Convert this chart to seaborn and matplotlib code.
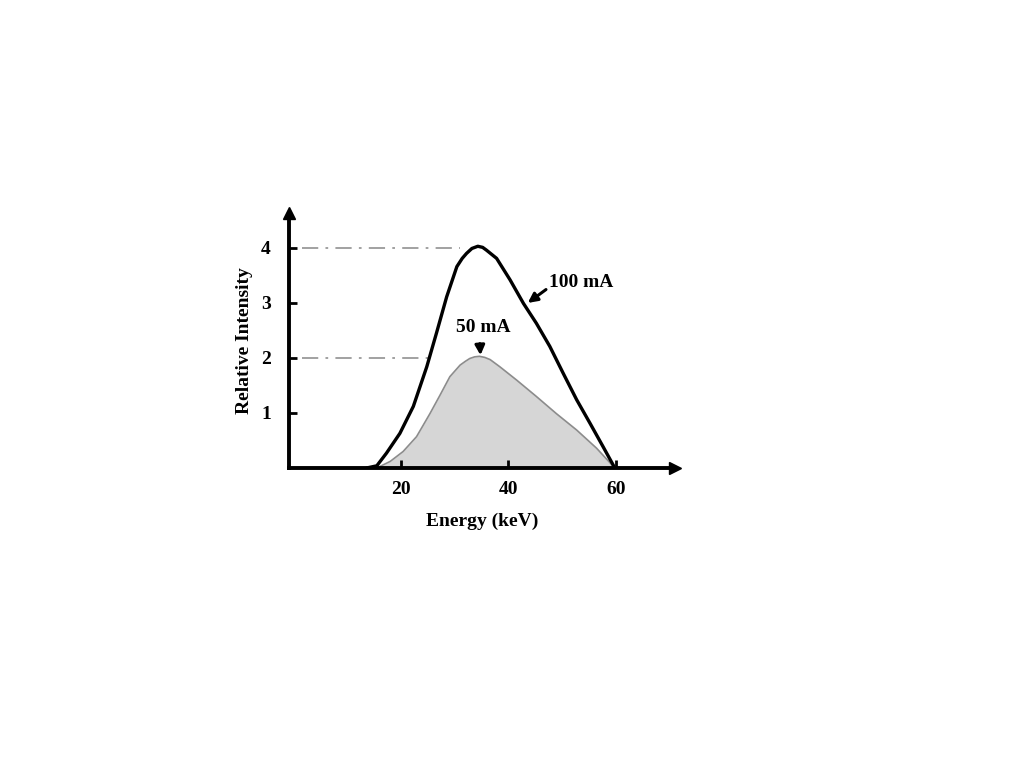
import matplotlib
matplotlib.use("Agg")
import numpy as np
import pandas as pd
import matplotlib.pyplot as plt
import seaborn as sns

# ==========================================
# data
# ==========================================
energy_100 = [13.6, 15.5, 17.3, 19.8, 22.3, 24.8, 26.6, 28.5, 30.4, 31.4, 32.2, 33.2, 34.3,
              35.2, 35.9, 37.8, 40.3, 42.8, 45.2, 47.7, 50.2, 52.7, 55.2, 57.6, 59.8]
intensity_100 = [0.0, 0.04, 0.27, 0.63, 1.12, 1.84, 2.45, 3.11, 3.66, 3.81, 3.90, 3.99, 4.03,
                 4.01, 3.96, 3.81, 3.42, 2.99, 2.63, 2.21, 1.72, 1.24, 0.81, 0.39, 0.0]

energy_50 = [15.5, 18.0, 20.4, 22.9, 25.4, 27.3, 29.1, 31.0, 32.0, 32.8, 33.7, 34.6,
             35.6, 36.6, 38.4, 41.5, 45.2, 48.9, 52.7, 56.4, 59.8]
intensity_50 = [0.0, 0.12, 0.30, 0.57, 0.99, 1.33, 1.66, 1.87, 1.94, 1.99, 2.02, 2.03,
                2.01, 1.97, 1.84, 1.60, 1.30, 0.99, 0.69, 0.36, 0.0]

x_ticks = [20, 40, 60]
y_ticks = [1, 2, 3, 4]
ref_levels = [4, 2]
ref_ends = [31.0, 25.5]

df100 = pd.DataFrame({"energy": energy_100, "intensity": intensity_100})
df50 = pd.DataFrame({"energy": energy_50, "intensity": intensity_50})

sns.set_theme(style="white")
plt.rcParams['font.family'] = ['Liberation Serif', 'DejaVu Serif']
plt.rcParams['font.weight'] = 'bold'
plt.rcParams['text.color'] = 'black'
plt.rcParams['axes.labelcolor'] = 'black'

fig = plt.figure(figsize=(10.24, 7.68), dpi=100)
ax = fig.add_axes([289 / 1024, 300 / 768, 386 / 1024, 255.3 / 768])

# dash-dot reference lines
for lvl, end in zip(ref_levels, ref_ends):
    ax.plot([1.5, end], [lvl, lvl], color="#9a9a9a", lw=1.3, ls=(0, (9, 4, 1.5, 4)), zorder=1)

# 50 mA shaded spectrum
ax.fill_between(df50["energy"], df50["intensity"], 0, color="#d6d6d6", zorder=2, lw=0)
sns.lineplot(data=df50, x="energy", y="intensity", ax=ax, color="#8c8c8c", lw=1.2, zorder=3)

# 100 mA spectrum
sns.lineplot(data=df100, x="energy", y="intensity", ax=ax, color="black", lw=2.4, zorder=4)

ax.set_xlim(-0.84, 71)
ax.set_ylim(0, 4.64)
ax.set_xticks(x_ticks)
ax.set_yticks(y_ticks)
ax.tick_params(bottom=True, left=True, direction="in", length=6, width=2,
               colors="black", labelsize=14)
ax.tick_params(axis="x", pad=9)
ax.tick_params(axis="y", pad=13)
ax.xaxis.set_zorder(6)
ax.yaxis.set_zorder(6)
for lab in ax.get_xticklabels() + ax.get_yticklabels():
    lab.set_fontweight("bold")

for side in ["top", "right"]:
    ax.spines[side].set_visible(False)
for side in ["left", "bottom"]:
    ax.spines[side].set_linewidth(2.8)
    ax.spines[side].set_color("black")
    ax.spines[side].set_zorder(7)

# axis arrow heads
ax.plot(1, 0, ">", color="black", ms=9, transform=ax.transAxes, clip_on=False)
ax.plot(0, 1, "^", color="black", ms=9, transform=ax.transAxes, clip_on=False)

ax.set_xlabel("Energy (keV)", fontsize=14, fontweight="bold", labelpad=11)
ax.set_ylabel("Relative Intensity", fontsize=14, fontweight="bold", labelpad=6)

# curve labels with arrows
ax.annotate("100 mA", xy=(43.6, 3.0), xytext=(47.6, 3.38), fontsize=14, fontweight="bold",
            va="center", ha="left",
            arrowprops=dict(arrowstyle="-|>", color="black", lw=2.2, mutation_scale=14,
                            shrinkA=0, shrinkB=0, relpos=(0, 0.2)))
ax.annotate("50 mA", xy=(34.8, 2.05), xytext=(35.3, 2.55), fontsize=14, fontweight="bold",
            va="center", ha="center",
            arrowprops=dict(arrowstyle="-|>", color="black", lw=2.2, mutation_scale=14,
                            shrinkA=3, shrinkB=0, relpos=(0.43, 0)))

plt.savefig("out.png", dpi=100)
plt.close()
